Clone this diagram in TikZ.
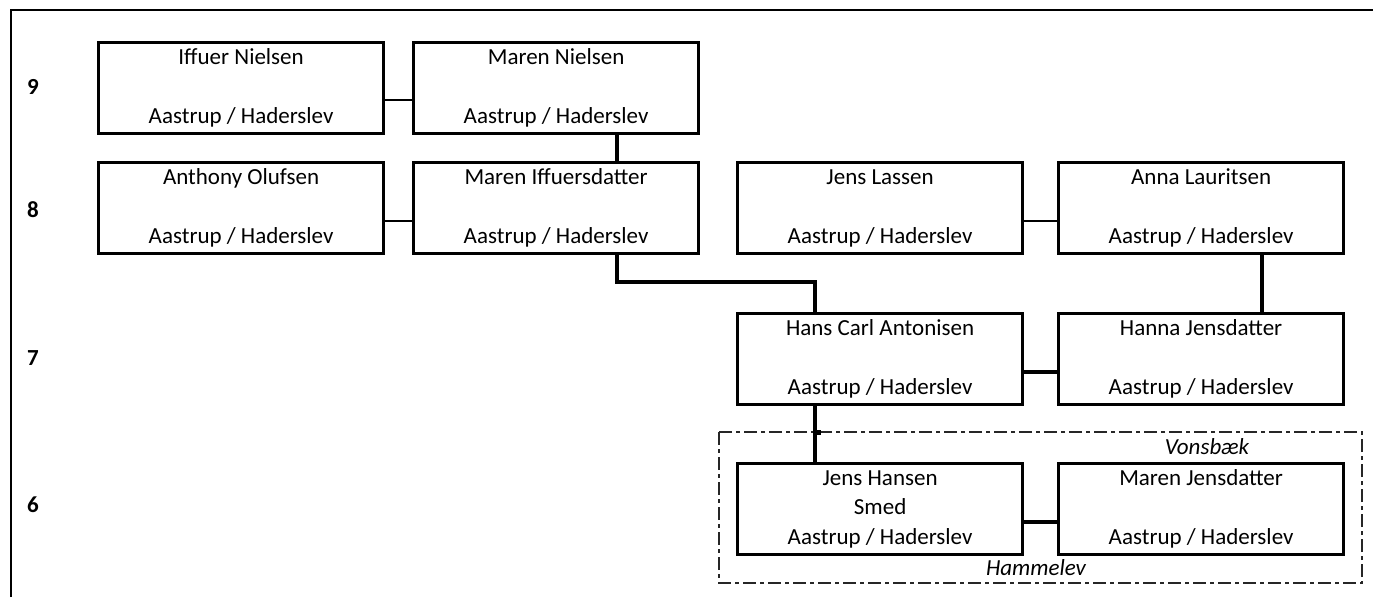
\documentclass[tikz,border=0pt]{standalone}
\usepackage{fontspec}
\setmainfont{Carlito}
\begin{document}
\begin{tikzpicture}[x=1pt,y=-1pt,
  person/.style={draw=black, line width=3.2pt, rectangle, anchor=north west,
    minimum width=285pt, minimum height=91pt, inner sep=0pt, align=center,
    font=\fontsize{23}{29.5}\selectfont, text=black},
  gen/.style={font=\fontsize{23}{25}\selectfont\bfseries, anchor=center},
  place/.style={font=\fontsize{23}{27}\selectfont\itshape, text=black, anchor=center},
  thinlink/.style={line width=1.8pt},
  thicklink/.style={line width=3.2pt},
  frame/.style={line width=2.6pt},
  region/.style={line width=1.4pt, dash pattern=on 13pt off 4pt on 4pt off 4pt, black!85}
]
\useasboundingbox (0,0) rectangle (1373,597);
% frame
\coordinate (ftl) at (11,10);
\coordinate (ftr) at (1373,10);
\coordinate (fbl) at (11,597);
\draw[frame] (fbl) -- (ftl) -- (ftr);

% generation numbers
\node[gen] (g9) at (33,87) {9};
\node[gen] (g8) at (33,210) {8};
\node[gen] (g7) at (33,358) {7};
\node[gen] (g6) at (33,505) {6};

% generation 9
\node[person] (iffuer) at (97,41) {Iffuer Nielsen\\ \strut\\ Aastrup / Haderslev};
\node[person] (marenN) at (412,41) {Maren Nielsen\\ \strut\\ Aastrup / Haderslev};
% generation 8
\node[person] (anthony) at (97,161) {Anthony Olufsen\\ \strut\\ Aastrup / Haderslev};
\node[person] (marenI) at (412,161) {Maren Iffuersdatter\\ \strut\\ Aastrup / Haderslev};
\node[person] (jensL) at (736,161) {Jens Lassen\\ \strut\\ Aastrup / Haderslev};
\node[person] (anna) at (1057,161) {Anna Lauritsen\\ \strut\\ Aastrup / Haderslev};
% generation 7
\node[person] (hans) at (736,312) {Hans Carl Antonisen\\ \strut\\ Aastrup / Haderslev};
\node[person] (hanna) at (1057,312) {Hanna Jensdatter\\ \strut\\ Aastrup / Haderslev};
% generation 6
\node[person] (jensH) at (736,462) {Jens Hansen\\ Smed\\ Aastrup / Haderslev};
\node[person] (marenJ) at (1057,462) {Maren Jensdatter\\ \strut\\ Aastrup / Haderslev};

% region box
\coordinate (rtl) at (719,432);
\coordinate (rbr) at (1362,583);
\draw[region] (rtl) rectangle (rbr);
\node[place] (vons) at (1207,447) {Vonsbæk};
\node[place] (hamm) at (1036,568) {Hammelev};

% couple links
\draw[thinlink] (iffuer.east |- 0,100) -- (marenN.west |- 0,100);
\draw[thinlink] (anthony.east |- 0,221) -- (marenI.west |- 0,221);
\draw[thinlink] (jensL.east |- 0,221) -- (anna.west |- 0,221);
\draw[thicklink] (hans.east |- 0,372) -- (hanna.west |- 0,372);
\draw[thicklink] (jensH.east |- 0,522) -- (marenJ.west |- 0,522);

% descent links
\draw[thicklink] (marenN.south -| 617,0) -- (marenI.north -| 617,0);
\draw[thicklink] (marenI.south -| 617,0) -- (617,282) -- (815,282) -- (hans.north -| 815,0);
\draw[thicklink] (anna.south -| 1262,0) -- (hanna.north -| 1262,0);
\draw[thicklink] (hans.south -| 815,0) -- (jensH.north -| 815,0);
\fill (816,430) rectangle (821,435);
\end{tikzpicture}
\end{document}
